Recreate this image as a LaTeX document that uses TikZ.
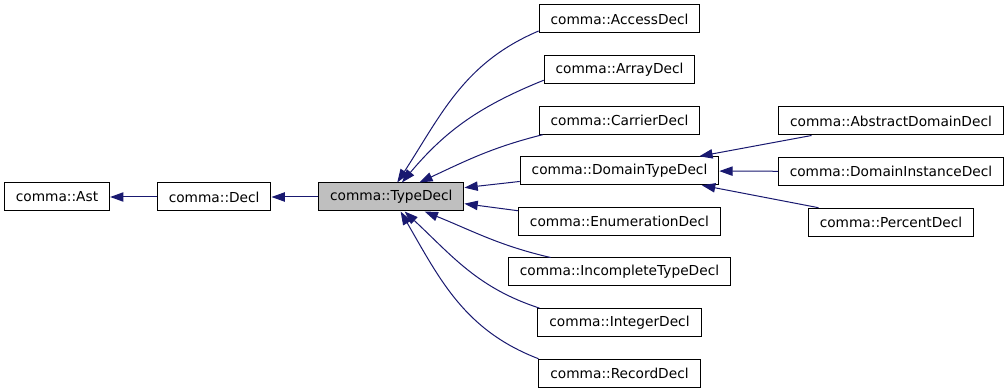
\documentclass[tikz,border=0pt]{standalone}
\usepackage{fontspec}
\setmainfont{DejaVu Sans}
\usepackage{tikz}
\usetikzlibrary{
  arrows.meta,
  positioning
}
\definecolor{edgeblue}{HTML}{191970}
\definecolor{curfill}{HTML}{BFBFBF}
\tikzset{
  clsbox/.style={
    rectangle, draw=black, fill=white, line width=0.75pt,
    minimum height=21pt, inner xsep=8.6pt, inner ysep=0pt,
    font=\fontsize{10.3}{12}\selectfont
  },
  curbox/.style={
    clsbox, fill=curfill
  },
  inherit/.style={
    -{Triangle[length=10pt,width=7pt]}, color=edgeblue, line width=0.75pt
  },
}

\begin{document}
\begin{tikzpicture}[x=0.75pt,y=-0.75pt,node distance=16.2pt]
  \useasboundingbox[fill=white] (0,0) rectangle (1008,392);

  \node[clsbox] (ast) at (57,197) {comma::Ast};
  \node[clsbox, right=35pt of ast] (decl) {comma::Decl};
  \node[curbox, right=35pt of decl] (td) {comma::TypeDecl};

  \node[clsbox] (acc) at (619.5,19) {comma::AccessDecl};
  \node[clsbox, below=of acc] (arr) {comma::ArrayDecl};
  \node[clsbox, below=of arr] (car) {comma::CarrierDecl};
  \node[clsbox, below=of car] (dtd) {comma::DomainTypeDecl};
  \node[clsbox, below=of dtd] (enm) {comma::EnumerationDecl};
  \node[clsbox, below=of enm] (inc) {comma::IncompleteTypeDecl};
  \node[clsbox, below=of inc] (itg) {comma::IntegerDecl};
  \node[clsbox, below=of itg] (rec) {comma::RecordDecl};

  \node[clsbox] (abs) at (891,121) {comma::AbstractDomainDecl};
  \node[clsbox, below=of abs] (dinst) {comma::DomainInstanceDecl};
  \node[clsbox, below=of dinst] (pct) {comma::PercentDecl};

  \draw[inherit] (decl) -- (ast);
  \draw[inherit] (td) -- (decl);
  \draw[inherit] ([yshift=-9pt]acc.west) to[out=203,in=57] ([xshift=4.5pt]td.north);
  \draw[inherit] ([yshift=-8pt]arr.west) to[out=202,in=50] ([xshift=8pt]td.north);
  \draw[inherit] ([xshift=3pt]car.south west) to[out=194,in=25] ([xshift=21pt]td.north);
  \draw[inherit] ([yshift=-8pt]dtd.west) -- ([yshift=7pt]td.east);
  \draw[inherit] ([yshift=8pt]enm.west) -- ([yshift=-5pt]td.east);
  \draw[inherit] ([xshift=32pt]inc.north west) to[out=167,in=-22] ([xshift=25pt]td.south);
  \draw[inherit] ([xshift=1.5pt]itg.north west) to[out=162,in=-43] ([xshift=10pt]td.south);
  \draw[inherit] (rec.north west) to[out=159,in=-60] ([xshift=7pt]td.south);

  \draw[inherit] ([xshift=25pt]abs.south west) -- ([xshift=-15pt]dtd.north east);
  \draw[inherit] (dinst) -- (dtd);
  \draw[inherit] ([xshift=8pt]pct.north west) -- ([xshift=-13pt]dtd.south east);
\end{tikzpicture}
\end{document}
